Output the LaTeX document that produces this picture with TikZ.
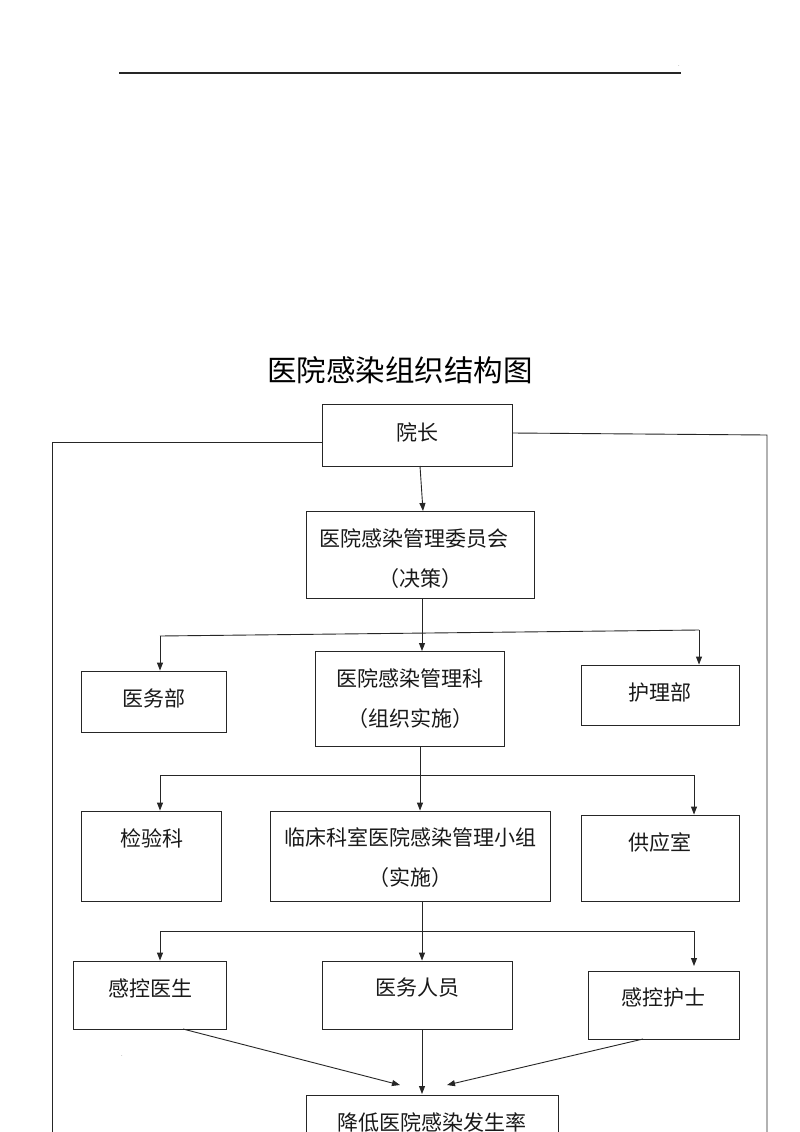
\documentclass[tikz,border=0pt]{standalone}
\usepackage{fontspec}
\newfontfamily\cjk{Noto Sans CJK SC}
\usetikzlibrary{arrows.meta,calc}
\tikzset{
  box/.style={draw=black!85, line width=0.9pt, rectangle, inner sep=0pt},
  lbl/.style={font=\cjk\fontsize{21}{24}\selectfont, inner sep=0pt, text=black!90},
  ttl/.style={font=\cjk\fontsize{29.5}{32}\selectfont, inner sep=0pt},
  ln/.style={draw=black!85, line width=0.9pt},
  arr/.style={ln, -{Triangle[length=8pt,width=6pt]}},
  dotmark/.style={font=\fontsize{6}{6}\selectfont, inner sep=0pt, text=black!70}
}
\begin{document}
\begin{tikzpicture}[x=1pt,y=-1pt]
\clip (0,0) rectangle (800,1132);
\fill[white] (0,0) rectangle (800,1132);

% header rule
\coordinate (hl) at (119,73);
\coordinate (hr) at (681,73);
\draw[ln, line width=1.3pt] (hl) -- (hr);
\node[dotmark] (d1) at (679,66) {.};
\node[dotmark] (d2) at (122,1056) {.};

% title
\node[ttl] (title) at (400,370) {医院感染组织结构图};

% boxes
\node[box, minimum width=190, minimum height=62] (yz) at (417,435) {};
\node[box, minimum width=228, minimum height=87] (wyh) at (420,554.5) {};
\node[box, minimum width=145, minimum height=61] (ywb) at (153.5,701.5) {};
\node[box, minimum width=189, minimum height=95] (glk) at (409.5,698.5) {};
\node[box, minimum width=158, minimum height=60] (hlb) at (660,695) {};
\node[box, minimum width=140, minimum height=90] (jyk) at (151,856) {};
\node[box, minimum width=280, minimum height=90] (lc) at (410,856) {};
\node[box, minimum width=158, minimum height=86] (gys) at (660,858) {};
\node[box, minimum width=153, minimum height=68] (gkys) at (149.5,995) {};
\node[box, minimum width=190, minimum height=68] (ywry) at (417,995) {};
\node[box, minimum width=151, minimum height=68] (gkhs) at (663.5,1005) {};
\node[box, minimum width=252, minimum height=80] (jd) at (432,1135) {};

% texts
\node[lbl] (tyz) at (417,432) {院长};
\node[lbl] (twyh1) at (414,538) {医院感染管理委员会};
\node[lbl] (twyh2) at (420,579) {（决策）};
\node[lbl] (tywb) at (154,698) {医务部};
\node[lbl] (tglk1) at (410,678) {医院感染管理科};
\node[lbl] (tglk2) at (410,719) {（组织实施）};
\node[lbl] (thlb) at (660,692) {护理部};
\node[lbl] (tjyk) at (152,838) {检验科};
\node[lbl] (tlc1) at (410,837) {临床科室医院感染管理小组};
\node[lbl] (tlc2) at (410,878) {（实施）};
\node[lbl] (tgys) at (660,842) {供应室};
\node[lbl] (tgkys) at (150,988) {感控医生};
\node[lbl] (tywry) at (417,988) {医务人员};
\node[lbl] (tgkhs) at (663,998) {感控护士};
\node[lbl] (tjd) at (432,1122) {降低医院感染发生率};

% side lines from 院长
\coordinate (ltop) at (52,442);
\coordinate (lbot) at (52,1140);
\coordinate (rtop) at (767,435);
\coordinate (rbot) at (767,1140);
\draw[ln] (yz.west |- ltop) -- (ltop) -- (lbot);
\draw[ln] ($(yz.east)+(0,-2)$) -- (rtop) -- (rbot);

% 院长 -> 委员会
\coordinate (a1s) at (420,466);
\coordinate (a1e) at (423,511);
\draw[arr] (a1s) -- (a1e);

% 委员会 -> branches
\coordinate (a2s) at (422,598);
\coordinate (a2e) at (422,651);
\draw[arr] (a2s) -- (a2e);
\coordinate (b1l) at (160,636);
\coordinate (b1r) at (699,630);
\draw[ln] (b1l) -- (b1r);
\draw[arr] (b1l) -- (b1l |- ywb.north);
\draw[arr] (b1r) -- (b1r |- hlb.north);

% 管理科 -> branches
\coordinate (b2c) at (420,775);
\coordinate (b2l) at (160,775);
\coordinate (b2r) at (694,775);
\draw[arr] (glk.south -| b2c) -- (lc.north -| b2c);
\draw[ln] (b2l) -- (b2r);
\draw[arr] (b2l) -- (b2l |- jyk.north);
\draw[arr] (b2r) -- (b2r |- gys.north);

% 临床 -> branches
\coordinate (b3c) at (422,931);
\coordinate (b3l) at (160,931);
\coordinate (b3r) at (694,931);
\coordinate (b3re) at (694,966);
\draw[arr] (lc.south -| b3c) -- (ywry.north -| b3c);
\draw[ln] (b3l) -- (b3r);
\draw[arr] (b3l) -- (b3l |- gkys.north);
\draw[arr] (b3r) -- (b3re);

% to 降低
\coordinate (s1) at (183,1029);
\coordinate (e1) at (400,1085);
\coordinate (s2) at (422,1029);
\coordinate (e2) at (422,1094);
\coordinate (s3) at (643,1039);
\coordinate (e3) at (447,1085);
\draw[arr] (s1) -- (e1);
\draw[arr] (s2) -- (e2);
\draw[arr] (s3) -- (e3);
\end{tikzpicture}
\end{document}
